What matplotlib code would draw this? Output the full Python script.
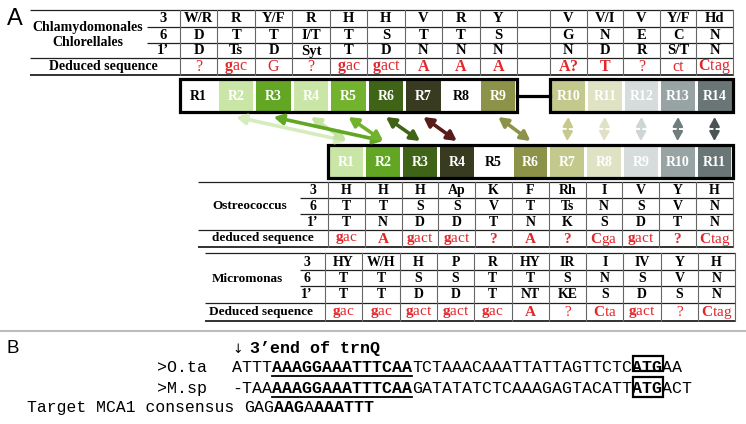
import matplotlib
matplotlib.use("Agg")
import matplotlib.pyplot as plt
from matplotlib.patches import FancyArrowPatch, Rectangle

plt.rcParams["mathtext.fontset"] = "custom"
plt.rcParams["mathtext.rm"] = "Liberation Serif"
plt.rcParams["mathtext.bf"] = "Liberation Serif:bold"

SERIF = "Liberation Serif"
MONO = ["Liberation Mono", "DejaVu Sans Mono"]
RED = "#e3262b"

# ---- panel A: Chlamydomonales / Chlorellales (15 columns, col 10 empty) ----
chl_row3 = ["W/R", "R", "Y/F", "R", "H", "H", "V", "R", "Y", "", "V", "V/I", "V", "Y/F", "Hd"]
chl_row6 = ["D", "T", "T", "I/T", "T", "S", "T", "T", "S", "", "G", "N", "E", "C", "N"]
chl_row1 = ["D", "Ts", "D", "Syt", "T", "D", "N", "N", "N", "", "N", "D", "R", "S/T", "N"]
chl_deduced = ["?", "gac", "G", "?", "gac", "gact", "A", "A", "A", "", "A?", "T", "?", "ct", "Ctag"]

# ---- Ostreococcus ----
ost_row3 = ["H", "H", "H", "Ap", "K", "F", "Rh", "I", "V", "Y", "H"]
ost_row6 = ["T", "T", "S", "S", "V", "T", "Ts", "N", "S", "V", "N"]
ost_row1 = ["T", "N", "D", "D", "T", "N", "K", "S", "D", "T", "N"]
ost_deduced = ["gac", "A", "gact", "gact", "?", "A", "?", "Cga", "gact", "?", "Ctag"]

# ---- Micromonas ----
mic_row3 = ["HY", "W/H", "H", "P", "R", "HY", "IR", "I", "IV", "Y", "H"]
mic_row6 = ["T", "T", "S", "S", "T", "T", "S", "N", "S", "V", "N"]
mic_row1 = ["T", "T", "D", "D", "T", "NT", "KE", "S", "D", "S", "N"]
mic_deduced = ["gac", "gac", "gact", "gact", "gac", "A", "?", "Cta", "gact", "?", "Ctag"]

row_names = ["3", "6", "1\u2019"]

# repeat boxes
top_repeats = ["R%d" % i for i in range(1, 15)]
top_colors = ["#ffffff", "#c9e6a6", "#62a624", "#c9e6a6", "#72b22c", "#3f6417", "#393b20",
              "#ffffff", "#8c9348", "#c3c98c", "#e0e2c4", "#d6dcdc", "#98a4a4", "#6a7676"]
bot_repeats = ["R%d" % i for i in range(1, 12)]
bot_colors = ["#c9e6a6", "#62a624", "#3f6417", "#393b20", "#ffffff", "#8c9348",
              "#c3c98c", "#e0e2c4", "#d6dcdc", "#98a4a4", "#6a7676"]

# correspondences top repeat -> Ostreococcus repeat
links = [(2, 1), (4, 1), (3, 2), (5, 2), (6, 3), (7, 4), (9, 6),
         (10, 7), (11, 8), (12, 9), (13, 10), (14, 11)]
link_colors = ["#d5ecbd", "#c4e3a3", "#62a624", "#72b22c", "#3f6417", "#5a1b1b", "#8c9348",
               "#c5c98e", "#dfe0c4", "#cdd5d6", "#6f7d7d", "#4a5454"]

# ---- panel B sequences ----
ota_seq = ["ATTT", "AAAGGAAATTTCAA", "TCTAAACAAATTATTAGTTCTC", "ATG", "AA"]
msp_seq = ["-TAA", "AAAGGAAATTTCAA", "GATATATCTCAAAGAGTACATT", "ATG", "ACT"]
mca_seq = ["GAG", "AAG", "A", "AAATTT"]
ota_bold = [False, True, False, True, False]
mca_bold = [False, True, False, True]


def deduced_label(s, bold_q=False):
    if s == "?":
        return r"$\mathbf{?}$" if bold_q else "?"
    if s in ("", "G", "ct"):
        return s
    if s.isupper():
        return r"$\mathbf{%s}$" % s
    return r"$\mathbf{%s}\mathrm{%s}$" % (s[0], s[1:])


def hline(ax, x0, x1, y, lw=0.9, color="#222222"):
    ax.plot([x0, x1], [y, y], color=color, lw=lw, solid_capstyle="butt")


def draw_table(ax, rows, deduced, edges, ys, x_left, x_num, num_x, names,
               ded_text, ded_pos, size, name_size, bold_q=False):
    top, l1, l2, l3, bottom = ys
    right = edges[-1]
    hline(ax, x_left, right, top)
    hline(ax, x_num, right, l1)
    hline(ax, x_num, right, l2)
    hline(ax, x_left, right, l3)
    hline(ax, x_left, right, bottom, lw=1.3)
    for x in edges:
        ax.plot([x, x], [top, bottom], color="#666666", lw=0.8)
    centers = [(a + b) / 2 for a, b in zip(edges[:-1], edges[1:])]
    mids = [(top + l1) / 2, (l1 + l2) / 2, (l2 + l3) / 2]
    for lab, vals, y in zip(row_names, rows, mids):
        ax.text(num_x, y + 0.5, lab, ha="center", va="center", fontsize=size,
                family=SERIF, weight="bold")
        for x, v in zip(centers, vals):
            ax.text(x, y + 0.5, v, ha="center", va="center", fontsize=size,
                    family=SERIF, weight="bold")
    yd = (l3 + bottom) / 2
    for x, v in zip(centers, deduced):
        ax.text(x, yd + 0.5, deduced_label(v, bold_q), ha="center", va="center",
                fontsize=size + 1, family=SERIF, color=RED)
    for txt, x, y in names:
        ax.text(x, y, txt, ha="center", va="center", fontsize=name_size,
                family=SERIF, weight="bold")
    ax.text(ded_pos[0], ded_pos[1], ded_text, ha="center", va="center",
            fontsize=name_size, family=SERIF, weight="bold")


fig = plt.figure(figsize=(7.46, 4.24), dpi=100)
ax = fig.add_axes([0, 0, 1, 1])
ax.set_xlim(0, 746)
ax.set_ylim(424, 0)
ax.axis("off")

# column edges
chl_edges = [180 + 37.44 * k for k in range(10)] + [550 + 36.6 * k for k in range(6)]
ost_edges = [328 + 36.8 * k for k in range(12)]
mic_edges = [325 + 37.3 * k for k in range(12)]

ax.text(7, 25, "A", fontsize=17, family="Liberation Sans", va="baseline", ha="left")

draw_table(ax, [chl_row3, chl_row6, chl_row1], chl_deduced, chl_edges,
           [10, 27, 43, 58, 75], 30, 147, 163,
           [("Chlamydomonales", 88, 27), ("Chlorellales", 88, 43)],
           "Deduced sequence", (103, 66.5), 10.5, 10)

draw_table(ax, [ost_row3, ost_row6, ost_row1], ost_deduced, ost_edges,
           [182, 198, 214, 230, 247], 198, 300, 313,
           [("Ostreococcus", 250, 206)], "deduced sequence", (263, 238.5), 10, 9.5,
           bold_q=True)

draw_table(ax, [mic_row3, mic_row6, mic_row1], mic_deduced, mic_edges,
           [253, 270, 286, 303, 321], 205, 300, 307,
           [("Micromonas", 247, 279)], "Deduced sequence", (261, 312), 10, 9.5)

# repeat boxes
top_pairs = list(zip(chl_edges[:9], chl_edges[1:10])) + list(zip(chl_edges[10:15], chl_edges[11:16]))
bot_pairs = list(zip(ost_edges[:-1], ost_edges[1:]))


def draw_cells(ax, labels, colors, pairs, y0, y1):
    for lab, col, (a, b) in zip(labels, colors, pairs):
        ax.add_patch(Rectangle((a + 1.5, y0 + 1.5), b - a - 3, y1 - y0 - 3,
                               facecolor=col, edgecolor="none"))
        tc = "black" if col == "#ffffff" else "white"
        ax.text((a + b) / 2, (y0 + y1) / 2 + 0.5, lab, ha="center", va="center",
                fontsize=10, family=SERIF, weight="bold", color=tc)


draw_cells(ax, top_repeats, top_colors, top_pairs, 79, 112)
draw_cells(ax, bot_repeats, bot_colors, bot_pairs, 145, 178)
for a, b, y0 in [(chl_edges[0], chl_edges[9], 79), (chl_edges[10], chl_edges[15], 79),
                 (ost_edges[0], ost_edges[-1], 145)]:
    ax.add_patch(Rectangle((a, y0), b - a, 33, facecolor="none",
                           edgecolor="black", lw=2.3))
ax.plot([chl_edges[9], chl_edges[10]], [95.5, 95.5], color="black", lw=2.3)

# correspondence arrows
top_centers = [(a + b) / 2 for a, b in top_pairs]
bot_centers = [(a + b) / 2 for a, b in bot_pairs]
for (t, b), col in zip(links, link_colors):
    vertical = t >= 10
    arr = FancyArrowPatch((top_centers[t - 1], 117), (bot_centers[b - 1], 141),
                          arrowstyle="<|-|>,head_length=0.55,head_width=0.3",
                          mutation_scale=10, lw=1.6 if vertical else 2.6,
                          color=col, shrinkA=0, shrinkB=0)
    ax.add_patch(arr)

# separator between panels
hline(ax, 0, 746, 331, lw=1.5, color="#bbbbbb")

# ---- panel B ----
ax.text(7, 353, "B", fontsize=13.5, family="Liberation Sans", va="baseline", ha="left")
ax.text(232, 353, "\u2193", fontsize=9, family=["DejaVu Sans"], va="baseline")
ax.text(250, 353, "3\u2019end of trnQ", fontsize=12, family=MONO, weight="bold",
        va="baseline")

x0 = 232
cw = 10.0
ax.text(157, 372, ">O.ta", fontsize=12, family=MONO, va="baseline")
ax.text(157, 393, ">M.sp", fontsize=12, family=MONO, va="baseline")
ax.text(27, 412, "Target MCA1 consensus", fontsize=11.8, family=MONO, va="baseline")


def draw_seq(ax, segs, bolds, xs, yb, underline=None, box=None, box_y=None):
    pos = 0
    for i, (s, bd) in enumerate(zip(segs, bolds)):
        xa = xs + pos * cw
        ax.text(xa, yb, s, fontsize=12, family=MONO, va="baseline",
                weight="bold" if bd else "normal")
        xb = xa + len(s) * cw
        if i == underline:
            ax.plot([xa, xb], [yb + 3.5, yb + 3.5], color="black", lw=1.3)
        if i == box:
            ax.add_patch(Rectangle((xa + 1, box_y[0]), xb - xa, box_y[1] - box_y[0],
                                   facecolor="none", edgecolor="black", lw=1.6))
        pos += len(s)


draw_seq(ax, ota_seq, ota_bold, x0, 372, underline=1, box=3, box_y=(356, 371))
draw_seq(ax, msp_seq, ota_bold, x0, 393, underline=1, box=3, box_y=(377, 397))
draw_seq(ax, mca_seq, mca_bold, x0 + cw + 2, 412)

fig.savefig("out.png", dpi=100)
